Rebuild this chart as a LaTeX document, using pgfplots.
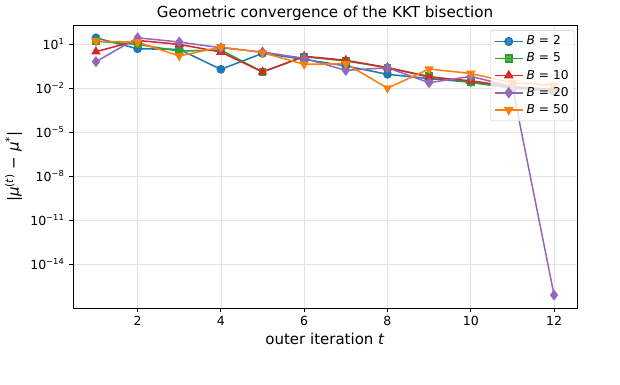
\documentclass[border=0pt]{standalone}
\usepackage{pgfplots}
\pgfplotsset{compat=1.18}
\usepackage{fontspec}
\setmainfont{DejaVu Sans}
\definecolor{tabblue}{HTML}{1F77B4}
\definecolor{taborange}{HTML}{FF7F0E}
\definecolor{tabgreen}{HTML}{2CA02C}
\definecolor{tabred}{HTML}{D62728}
\definecolor{tabpurple}{HTML}{9467BD}
\pgfplotsset{
  mylegend/.style={
    legend image code/.code={%
      \draw[line width=1.3pt, mark repeat=2, mark phase=2] plot coordinates {(0cm,0cm) (0.36cm,0cm) (0.72cm,0cm)};%
    }%
  }%
}
\begin{document}
\begin{tikzpicture}
\useasboundingbox (-52.6pt,-55.4pt) rectangle (393.9pt,221.8pt);
\begin{axis}[
  scale only axis,
  width=362.9pt, height=203.8pt,
  at={(0,0)}, anchor=south west,
  ymode=log, log basis y=10,
  xmin=0.45, xmax=12.55,
  ymin=1.05e-17, ymax=200,
  xtick={2,4,6,8,10,12},
  ytick={1e1,1e-2,1e-5,1e-8,1e-11,1e-14},
  yticklabels={10\textsuperscript{1},10\textsuperscript{−2},10\textsuperscript{−5},10\textsuperscript{−8},10\textsuperscript{−11},10\textsuperscript{−14}},
  minor ytick={},
  /pgf/number format/assume math mode=true,
  xticklabel style={font=\fontsize{9}{11}\selectfont},
  yticklabel style={font=\fontsize{9}{11}\selectfont},
  xtick pos=left, ytick pos=left,
  tick align=outside,
  major tick length=2.6pt,
  tick style={black, line width=0.6pt},
  axis line style={line width=0.6pt},
  grid=major,
  major grid style={gray!22, line width=0.5pt},
  title={Geometric convergence of the KKT bisection},
  title style={font=\fontsize{10.9}{13}\selectfont, at={(0.5,1)}, anchor=south, yshift=-6.5pt},
  xlabel={outer iteration \textit{t}},
  xlabel style={font=\fontsize{10.8}{13}\selectfont, yshift=2pt},
  ylabel={|\textit{μ}\textsuperscript{(\textit{t})} − \textit{μ}\textsuperscript{*}|},
  ylabel style={font=\fontsize{10.8}{13}\selectfont, yshift=-1pt},
  legend style={at={(rel axis cs:0.995,0.982)}, anchor=north east, font=\fontsize{8.8}{10}\selectfont,
    draw=gray!40, fill=white, fill opacity=0.8, draw opacity=1, text opacity=1, rounded corners=1pt,
    row sep=0.3pt, inner sep=2pt},
  legend cell align=left,
  every axis plot/.append style={line width=1.1pt},
]
\addplot[mylegend, color=tabblue, mark=*, mark size=2.6pt] coordinates {
(1,26.9) (2,4.79) (3,4.37) (4,0.191) (5,2.34) (6,0.912) (7,0.324) (8,0.0871) (9,0.0447) (10,0.0251) (11,0.0100) (12,0.00631)};
\addlegendentry{\textit{B} = 2}
\addplot[mylegend, color=tabgreen, mark=square*, mark size=2.3pt] coordinates {
(1,15.8) (2,9.55) (3,3.31) (4,3.98) (5,0.126) (6,1.38) (7,0.708) (8,0.245) (9,0.0631) (10,0.0251) (11,0.0100) (12,0.00631)};
\addlegendentry{\textit{B} = 5}
\addplot[mylegend, color=tabred, mark=triangle*, mark size=2.9pt] coordinates {
(1,3.02) (2,17.8) (3,9.55) (4,2.88) (5,0.126) (6,1.48) (7,0.794) (8,0.251) (9,0.0562) (10,0.0316) (11,0.0126) (12,0.00794)};
\addlegendentry{\textit{B} = 10}
\addplot[mylegend, color=tabpurple, mark=diamond*, mark size=3.1pt] coordinates {
(1,0.631) (2,26.9) (3,13.8) (4,5.62) (5,2.88) (6,1.07) (7,0.162) (8,0.245) (9,0.0234) (10,0.0631) (11,0.0126) (12,7.94e-17)};
\addlegendentry{\textit{B} = 20}
\addplot[mylegend, color=taborange, mark=triangle*, mark options={rotate=180}, mark size=2.9pt] coordinates {
(1,15.8) (2,13.5) (3,1.55) (4,6.31) (5,2.63) (6,0.417) (7,0.468) (8,0.0100) (9,0.200) (10,0.100) (11,0.0224) (12,0.0158)};
\addlegendentry{\textit{B} = 50}
\end{axis}
\end{tikzpicture}
\end{document}
